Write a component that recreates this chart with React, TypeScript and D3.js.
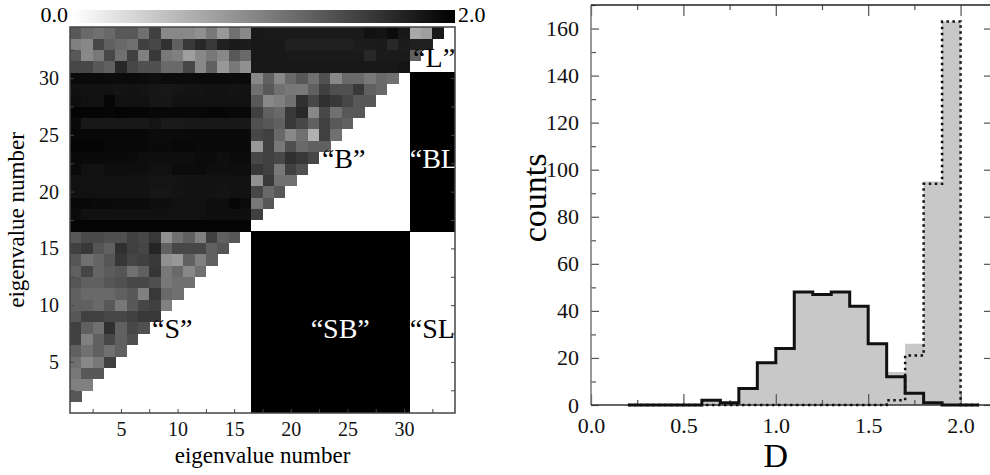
import { useEffect, useRef } from "react";
import * as d3 from "d3";

// eigenvalue groups: S = 1..16, B = 17..30, L = 31..34
const nEig = 34;
const sEnd = 16;
const bEnd = 30;

// S rows 2..16, columns 1..row-1
const sTriangle = [
  [1.31],
  [1.0, 1.0],
  [1.06, 1.31, 1.31],
  [1.12, 0.93, 1.06, 1.5],
  [1.25, 1.12, 1.25, 1.12, 1.25],
  [1.5, 1.0, 1.25, 1.44, 1.25, 1.37],
  [1.5, 1.25, 1.12, 1.62, 1.25, 1.44, 1.37],
  [1.31, 1.5, 1.5, 1.44, 1.44, 1.5, 1.56, 1.56],
  [1.25, 1.25, 1.18, 1.31, 1.06, 1.31, 1.44, 1.5, 1.0],
  [1.25, 1.18, 1.18, 1.18, 1.25, 1.31, 1.0, 1.56, 1.18, 1.12],
  [1.33, 1.25, 1.25, 1.33, 1.37, 1.44, 1.44, 1.37, 1.06, 1.12, 1.12],
  [1.25, 1.46, 1.21, 1.29, 1.33, 1.12, 1.25, 1.58, 1.06, 1.18, 0.93, 1.12],
  [1.33, 1.12, 1.21, 1.33, 1.58, 1.46, 1.5, 1.56, 0.87, 0.81, 1.25, 1.0, 1.25],
  [1.5, 1.56, 1.33, 1.25, 1.62, 1.5, 1.46, 1.71, 1.25, 1.44, 1.44, 1.44, 1.25, 1.33],
  [1.31, 1.42, 1.42, 1.37, 1.37, 1.5, 1.44, 1.56, 0.87, 1.12, 1.25, 1.0, 1.5, 1.25, 1.31],
];

// B rows 17..30 against S columns 1..16
const bRowsS = [
  [1.97, 1.97, 1.97, 1.97, 1.97, 1.97, 1.97, 1.97, 1.97, 1.97, 1.97, 1.97, 1.97, 1.97, 1.97, 1.97],
  [1.91, 1.87, 1.87, 1.87, 1.87, 1.87, 1.87, 1.87, 1.87, 1.87, 1.87, 1.87, 1.89, 1.89, 1.89, 1.89],
  [1.94, 1.94, 1.92, 1.92, 1.91, 1.91, 1.91, 1.89, 1.89, 1.87, 1.87, 1.87, 1.89, 1.89, 1.95, 1.91],
  [1.87, 1.87, 1.87, 1.86, 1.86, 1.86, 1.86, 1.83, 1.83, 1.84, 1.86, 1.86, 1.86, 1.84, 1.86, 1.86],
  [1.87, 1.87, 1.87, 1.87, 1.87, 1.86, 1.86, 1.84, 1.84, 1.84, 1.86, 1.86, 1.86, 1.86, 1.87, 1.87],
  [1.92, 1.87, 1.87, 1.89, 1.89, 1.89, 1.89, 1.87, 1.87, 1.91, 1.91, 1.91, 1.89, 1.89, 1.89, 1.89],
  [1.92, 1.92, 1.92, 1.92, 1.92, 1.91, 1.89, 1.89, 1.89, 1.89, 1.89, 1.91, 1.91, 1.89, 1.91, 1.91],
  [1.97, 1.97, 1.97, 1.94, 1.94, 1.94, 1.94, 1.92, 1.92, 1.94, 1.94, 1.92, 1.92, 1.92, 1.92, 1.92],
  [1.94, 1.94, 1.94, 1.94, 1.94, 1.94, 1.94, 1.91, 1.91, 1.92, 1.92, 1.92, 1.92, 1.92, 1.92, 1.92],
  [1.92, 1.81, 1.81, 1.81, 1.81, 1.81, 1.81, 1.84, 1.8, 1.8, 1.81, 1.81, 1.81, 1.81, 1.81, 1.81],
  [1.97, 1.97, 1.97, 1.95, 1.97, 1.95, 1.95, 1.94, 1.94, 1.94, 1.94, 1.94, 1.95, 1.95, 1.94, 1.94],
  [1.89, 1.87, 1.87, 1.95, 1.87, 1.87, 1.87, 1.83, 1.83, 1.86, 1.86, 1.86, 1.87, 1.87, 1.87, 1.87],
  [1.87, 1.86, 1.86, 1.86, 1.84, 1.86, 1.84, 1.83, 1.81, 1.83, 1.84, 1.84, 1.86, 1.86, 1.84, 1.86],
  [1.92, 1.92, 1.92, 1.91, 1.91, 1.92, 1.91, 1.89, 1.91, 1.91, 1.91, 1.92, 1.92, 1.91, 1.91, 1.91],
];

// B rows 18..30, columns 17..row-1
const bTriangle = [
  [1.5],
  [1.06, 1.31],
  [1.44, 1.18, 1.31],
  [0.87, 1.56, 1.12, 1.12],
  [1.56, 1.5, 1.06, 1.5, 1.37],
  [1.44, 1.5, 1.44, 1.62, 1.56, 1.44],
  [0.81, 1.5, 1.06, 1.37, 1.18, 1.25, 1.25],
  [1.44, 1.5, 1.18, 0.93, 1.12, 0.62, 1.5, 1.12],
  [1.37, 1.31, 1.25, 1.56, 1.44, 1.25, 1.5, 1.31, 1.25],
  [1.5, 1.25, 1.18, 1.56, 1.69, 0.93, 1.44, 1.12, 1.31, 1.31],
  [1.31, 0.93, 1.0, 1.12, 1.62, 1.44, 1.62, 1.56, 1.44, 1.31, 1.31],
  [1.12, 1.31, 1.12, 1.06, 1.06, 1.25, 1.5, 1.37, 1.37, 1.56, 1.25, 1.18],
  [0.93, 1.25, 0.93, 1.18, 1.31, 1.12, 1.37, 0.93, 1.18, 1.18, 1.06, 1.18, 1.12],
];

// L rows 31..34 against columns 1..30
const lRows = [
  [1.44, 1.44, 1.31, 1.25, 1.69, 1.44, 1.37, 1.37, 1.18, 1.18, 1.44, 0.93, 1.25, 0.81, 1.06, 0.87,
    1.81, 1.81, 1.81, 1.81, 1.81, 1.81, 1.81, 1.81, 1.81, 1.81, 1.81, 1.81, 1.81, 1.84],
  [1.31, 0.93, 1.06, 1.44, 1.12, 1.5, 1.0, 1.56, 1.06, 1.0, 0.75, 0.93, 1.06, 0.93, 1.31, 1.18,
    1.81, 1.81, 1.81, 1.8, 1.8, 1.8, 1.8, 1.8, 1.8, 1.8, 1.69, 1.8, 1.8, 1.8],
  [1.0, 0.93, 1.44, 1.25, 1.18, 1.12, 1.5, 1.44, 1.62, 1.25, 1.56, 1.69, 1.56, 1.75, 1.8, 1.78,
    1.81, 1.81, 1.81, 1.75, 1.75, 1.75, 1.75, 1.75, 1.75, 1.78, 1.78, 1.8, 1.69, 1.78],
  [1.31, 1.18, 1.12, 1.18, 1.31, 1.31, 1.12, 1.5, 0.93, 0.93, 0.93, 0.87, 1.06, 0.81, 1.12, 0.93,
    1.81, 1.8, 1.8, 1.8, 1.8, 1.8, 1.8, 1.8, 1.8, 1.8, 1.87, 1.84, 1.91, 1.81],
];

// L rows 32..34, columns 31..row-1
const lTriangle = [[1.25], [1.75, 1.75], [0.68, 0.75, 1.81]];

const sbValue = 2.0;
const blValue = 2.0;
const slValue = 0.0;

const labels = [
  { text: "\u201cL\u201d", col: 30.8, row: 31.0, color: "#000" },
  { text: "\u201cB\u201d", col: 22.75, row: 22.1, color: "#000" },
  { text: "\u201cBL\u201d", col: 30.5, row: 22.1, color: "#fff" },
  { text: "\u201cS\u201d", col: 7.75, row: 7.1, color: "#000" },
  { text: "\u201cSB\u201d", col: 21.75, row: 7.1, color: "#fff" },
  { text: "\u201cSL\u201d", col: 30.5, row: 7.1, color: "#000" },
];

// histogram, bins of width 0.1
const binEdges = [0.2, 0.3, 0.4, 0.5, 0.6, 0.7, 0.8, 0.9, 1.0, 1.1, 1.2, 1.3, 1.4, 1.5, 1.6, 1.7, 1.8, 1.9, 2.0, 2.1];
const solidCounts = [0, 0, 0, 0, 2, 1, 7, 18, 24, 48, 47, 48, 42, 26, 12, 5, 1, 0, 0];
const dottedCounts = [0, 0, 0, 0, 0, 0, 0, 0, 0, 0, 0, 0, 0, 0, 2, 21, 94, 163, 0];

const serif = "'Liberation Serif', 'Times New Roman', serif";

export default function App() {
  const ref = useRef<SVGSVGElement>(null);

  useEffect(() => {
    const svg = d3.select(ref.current);
    svg.selectAll("*").remove();

    // ---------- heatmap ----------
    const cells: { row: number; col: number; v: number }[] = [];
    sTriangle.forEach((r, i) => r.forEach((v, j) => cells.push({ row: i + 2, col: j + 1, v })));
    bRowsS.forEach((r, i) => r.forEach((v, j) => cells.push({ row: i + sEnd + 1, col: j + 1, v })));
    bTriangle.forEach((r, i) => r.forEach((v, j) => cells.push({ row: i + sEnd + 2, col: j + sEnd + 1, v })));
    lRows.forEach((r, i) => r.forEach((v, j) => cells.push({ row: i + bEnd + 1, col: j + 1, v })));
    lTriangle.forEach((r, i) => r.forEach((v, j) => cells.push({ row: i + bEnd + 2, col: j + bEnd + 1, v })));
    for (let row = 1; row <= nEig; row++) {
      for (let col = sEnd + 1; col <= nEig; col++) {
        if (row <= sEnd && col <= bEnd) cells.push({ row, col, v: sbValue });
        else if (row <= sEnd) cells.push({ row, col, v: slValue });
        else if (row <= bEnd && col > bEnd) cells.push({ row, col, v: blValue });
      }
    }

    const hx = d3.scaleLinear().domain([0.5, nEig + 0.5]).range([70, 455]);
    const hy = d3.scaleLinear().domain([0.5, nEig + 0.5]).range([413, 27]);
    const gray = d3.scaleLinear<string>().domain([0, 2]).range(["#ffffff", "#000000"]);

    const defs = svg.append("defs");
    defs.append("clipPath").attr("id", "hclip")
      .append("rect")
      .attr("x", hx(0.5)).attr("y", hy(nEig + 0.5))
      .attr("width", hx(nEig + 0.5) - hx(0.5)).attr("height", hy(0.5) - hy(nEig + 0.5));

    const grad = defs.append("linearGradient").attr("id", "cbar");
    d3.range(0, 2.01, 0.25).forEach(t => {
      grad.append("stop").attr("offset", `${(t / 2) * 100}%`).attr("stop-color", gray(t));
    });

    const hm = svg.append("g").attr("clip-path", "url(#hclip)");
    hm.selectAll("rect")
      .data(cells)
      .join("rect")
      .attr("x", d => hx(d.col - 0.5))
      .attr("y", d => hy(d.row + 0.5))
      .attr("width", d => hx(d.col + 0.5) - hx(d.col - 0.5) + 0.3)
      .attr("height", d => hy(d.row - 0.5) - hy(d.row + 0.5) + 0.3)
      .attr("fill", d => gray(d.v))
      .attr("shape-rendering", "crispEdges");

    hm.selectAll("text")
      .data(labels)
      .join("text")
      .attr("x", d => hx(d.col))
      .attr("y", d => hy(d.row))
      .attr("fill", d => d.color)
      .attr("font-family", serif)
      .attr("font-size", 28)
      .text(d => d.text);

    const hTicks = d3.range(2.5, nEig, 2.5);
    const fmt = (d: d3.NumberValue) => (+d % 5 === 0 ? String(d) : "");
    const styleAxis = (g: d3.Selection<SVGGElement, unknown, null, undefined>) => {
      g.select(".domain").remove();
      g.selectAll("line").attr("stroke", "#444");
      g.selectAll("text").attr("font-family", serif).attr("font-size", 20).attr("fill", "#111");
    };
    svg.append("g").attr("transform", `translate(0,${hy(0.5)})`)
      .call(d3.axisBottom(hx).tickValues(hTicks).tickFormat(fmt).tickSize(-4).tickPadding(9))
      .call(styleAxis);
    svg.append("g").attr("transform", `translate(${hx(0.5)},0)`)
      .call(d3.axisLeft(hy).tickValues(hTicks).tickFormat(fmt).tickSize(-4).tickPadding(11))
      .call(styleAxis);
    svg.append("g").attr("transform", `translate(${hx(nEig + 0.5)},0)`)
      .call(d3.axisRight(hy).tickValues(hTicks).tickFormat(() => "").tickSize(-4))
      .call(styleAxis);

    svg.append("rect")
      .attr("x", hx(0.5)).attr("y", hy(nEig + 0.5))
      .attr("width", hx(nEig + 0.5) - hx(0.5)).attr("height", hy(0.5) - hy(nEig + 0.5))
      .attr("fill", "none").attr("stroke", "#444").attr("stroke-width", 1.5);

    // colour bar
    svg.append("rect")
      .attr("x", 72).attr("y", 10).attr("width", 383).attr("height", 13)
      .attr("fill", "url(#cbar)");
    svg.append("text").attr("x", 68).attr("y", 22).attr("text-anchor", "end")
      .attr("font-family", serif).attr("font-size", 22).text("0.0");
    svg.append("text").attr("x", 458).attr("y", 22)
      .attr("font-family", serif).attr("font-size", 22).text("2.0");

    svg.append("text")
      .attr("x", hx((nEig + 1) / 2)).attr("y", 463).attr("text-anchor", "middle")
      .attr("font-family", serif).attr("font-size", 23).text("eigenvalue number");
    svg.append("text")
      .attr("transform", `translate(24,${hy((nEig + 1) / 2)}) rotate(-90)`)
      .attr("text-anchor", "middle")
      .attr("font-family", serif).attr("font-size", 23).text("eigenvalue number");

    // ---------- histogram ----------
    const x = d3.scaleLinear().domain([0, 2.17]).range([591, 992]);
    const y = d3.scaleLinear().domain([0, 170]).range([405, 5]);

    const total = solidCounts.map((c, i) => c + dottedCounts[i]);
    const stepPts = (counts: number[]) =>
      binEdges.map((e, i) => [e, counts[Math.min(i, counts.length - 1)]] as [number, number]);

    svg.append("path")
      .datum(stepPts(total))
      .attr("d", d3.area<[number, number]>().curve(d3.curveStepAfter)
        .x(d => x(d[0])).y0(y(0)).y1(d => y(d[1])))
      .attr("fill", "#c8c8c8");

    const axisStyle = (g: d3.Selection<SVGGElement, unknown, null, undefined>) => {
      g.select(".domain").remove();
      g.selectAll("line").attr("stroke", "#555").attr("stroke-width", 1.2);
      g.selectAll("text").attr("font-family", serif).attr("font-size", 22).attr("fill", "#111");
    };
    const xMajor = [0, 0.5, 1.0, 1.5, 2.0];
    const xMinor = [0.25, 0.75, 1.25, 1.75];
    const yMajor = d3.range(0, 161, 20);
    const yMinor = d3.range(10, 171, 20);

    svg.append("g").attr("transform", `translate(0,${y(0)})`)
      .call(d3.axisBottom(x).tickValues(xMajor).tickFormat(d3.format(".1f")).tickSize(-11).tickPadding(12))
      .call(axisStyle);
    svg.append("g").attr("transform", `translate(0,${y(0)})`)
      .call(d3.axisBottom(x).tickValues(xMinor).tickFormat(() => "").tickSize(-5))
      .call(axisStyle);
    svg.append("g").attr("transform", `translate(0,${y(170)})`)
      .call(d3.axisTop(x).tickValues(xMajor).tickFormat(() => "").tickSize(-11))
      .call(axisStyle);
    svg.append("g").attr("transform", `translate(0,${y(170)})`)
      .call(d3.axisTop(x).tickValues(xMinor).tickFormat(() => "").tickSize(-5))
      .call(axisStyle);
    svg.append("g").attr("transform", `translate(${x(0)},0)`)
      .call(d3.axisLeft(y).tickValues(yMajor).tickSize(-8).tickPadding(12))
      .call(axisStyle);
    svg.append("g").attr("transform", `translate(${x(0)},0)`)
      .call(d3.axisLeft(y).tickValues(yMinor).tickFormat(() => "").tickSize(-5))
      .call(axisStyle);
    svg.append("g").attr("transform", `translate(${x(2.17)},0)`)
      .call(d3.axisRight(y).tickValues(yMajor).tickFormat(() => "").tickSize(-8))
      .call(axisStyle);

    // frame
    svg.append("line").attr("x1", x(0)).attr("x2", x(0)).attr("y1", y(0)).attr("y2", y(170))
      .attr("stroke", "#777").attr("stroke-width", 1.5);
    svg.append("line").attr("x1", x(0)).attr("x2", x(2.17)).attr("y1", y(170)).attr("y2", y(170))
      .attr("stroke", "#222").attr("stroke-width", 1.5);
    svg.append("line").attr("x1", x(2.17)).attr("x2", x(2.17)).attr("y1", y(0)).attr("y2", y(170))
      .attr("stroke", "#444").attr("stroke-width", 1.5);
    svg.append("line").attr("x1", x(0)).attr("x2", x(2.17)).attr("y1", y(0)).attr("y2", y(0))
      .attr("stroke", "#333").attr("stroke-width", 1.5);

    const stepLine = d3.line<[number, number]>().curve(d3.curveStepAfter)
      .x(d => x(d[0])).y(d => y(d[1]));

    svg.append("path")
      .datum(stepPts(dottedCounts))
      .attr("d", stepLine)
      .attr("fill", "none").attr("stroke", "#111").attr("stroke-width", 2.5)
      .attr("stroke-dasharray", "2.5,3.5");

    svg.append("path")
      .datum(stepPts(solidCounts))
      .attr("d", stepLine)
      .attr("fill", "none").attr("stroke", "#111").attr("stroke-width", 3);

    svg.append("text")
      .attr("x", x(1.0)).attr("y", 467).attr("text-anchor", "middle")
      .attr("font-family", serif).attr("font-size", 34).text("D");
    svg.append("text")
      .attr("transform", `translate(546,${y(88)}) rotate(-90)`)
      .attr("text-anchor", "middle")
      .attr("font-family", serif).attr("font-size", 34).text("counts");
  }, []);

  return (
    <svg
      ref={ref}
      width={990}
      height={475}
      style={{ position: "absolute", left: 0, top: 0, background: "#fff" }}
    />
  );
}
